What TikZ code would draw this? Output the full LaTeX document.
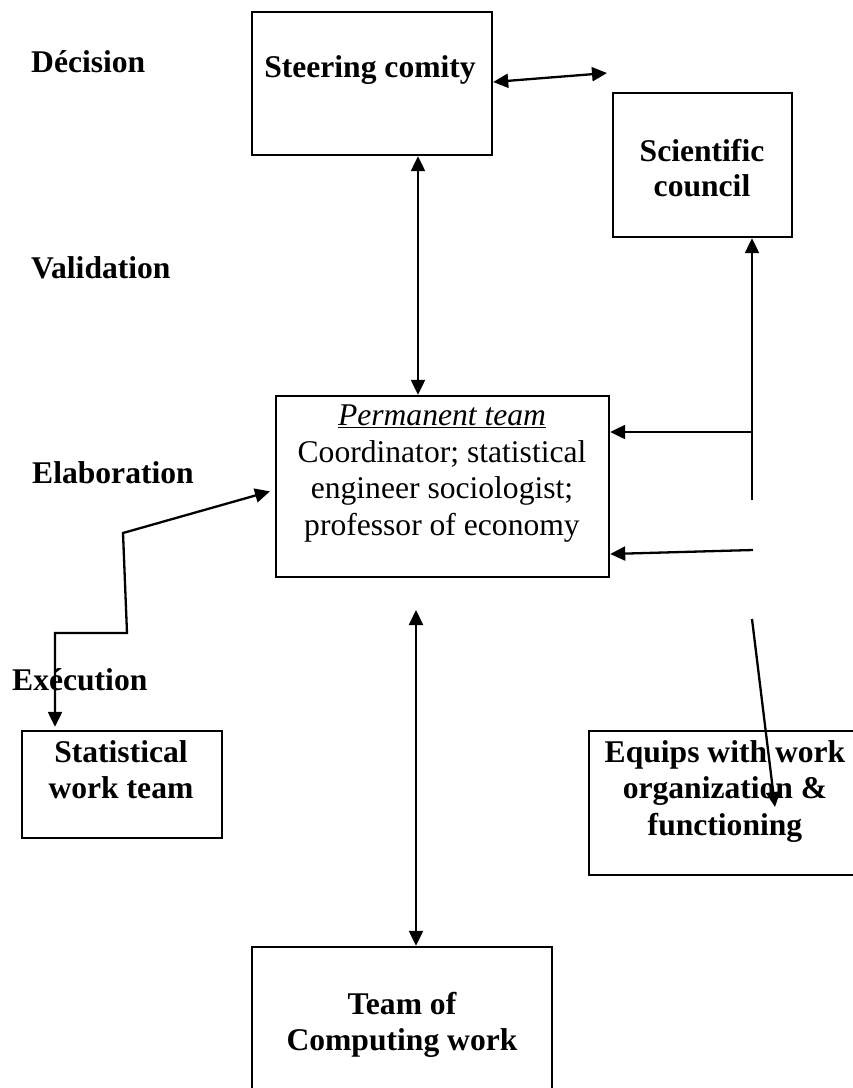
\documentclass[tikz,border=0pt]{standalone}
\usepackage{fontspec}
\setmainfont{Liberation Serif}
\usetikzlibrary{arrows.meta}
\begin{document}
\begin{tikzpicture}[x=1pt,y=-1pt,
  >={Triangle[length=15pt,width=14pt]},
  box/.style={draw, line width=2.4pt, inner sep=0pt},
  txt/.style={font=\bfseries\fontsize{31.6}{36.7}\selectfont, align=center, inner sep=0pt, anchor=north},
  ptxt/.style={font=\fontsize{31.6}{36.5}\selectfont, align=center, inner sep=0pt, anchor=north},
  lab/.style={font=\bfseries\fontsize{31.6}{36.7}\selectfont, inner sep=0pt, anchor=base west},
  conn/.style={line width=2.3pt},
]
\useasboundingbox (0,0) rectangle (853,1088);
\clip (0,0) rectangle (853,1088);

% boxes
\node[box, minimum width=240pt, minimum height=143pt] (steer) at (372,83.5) {};
\node[box, minimum width=179pt, minimum height=144pt] (sci) at (702.5,165) {};
\node[box, minimum width=333pt, minimum height=181pt] (perm) at (442.5,486.5) {};
\node[box, minimum width=200pt, minimum height=107pt] (stat) at (122,784.5) {};
\node[box, minimum width=272pt, minimum height=144pt] (equ) at (725,803) {};
\node[box, minimum width=300pt, minimum height=170pt] (comp) at (402,1032) {};

% box texts
\node[txt] (steert) at (370,51.3) {\strut Steering comity};
\node[txt, font=\bfseries\fontsize{31.6}{35.5}\selectfont] (scit) at (702,136) {\strut Scientific\\\strut council};
\node[ptxt] (permt) at (442,400) {\strut\textit{\underline{Permanent team}}\\\strut Coordinator; statistical\\\strut engineer sociologist;\\\strut professor of economy};
\node[txt] (statt) at (121,736.3) {\strut Statistical\\\strut work team};
\node[txt] (equt) at (725,736.3) {\strut Equips with work\\\strut organization \&\\\strut functioning};
\node[txt] (compt) at (402,988.3) {\strut Team of\\\strut Computing work};

% level labels
\node[lab] (ldec) at (31,72) {Décision};
\node[lab] (lval) at (31,278) {Validation};
\node[lab] (lela) at (32,483) {Elaboration};
\node[lab] (lexe) at (12,690) {Exécution};

% helper coordinates
\coordinate (a1) at (0,82);
\coordinate (a2) at (607,73);
\coordinate (v1) at (418,0);
\coordinate (c1) at (416,610);
\coordinate (r1) at (752,500);
\coordinate (r2) at (753,432);
\coordinate (r3) at (753,550);
\coordinate (r4) at (0,554);
\coordinate (r5) at (752,619);
\coordinate (r6) at (775,807);
\coordinate (l0) at (0,490);
\coordinate (l1) at (123,533);
\coordinate (l2) at (127,633);
\coordinate (l3) at (55,633);

% connectors
\draw[conn, <->] (steer.east |- a1) -- (a2);
\draw[conn, <->] (steer.south -| v1) -- (perm.north -| v1);
\draw[conn, <->] (c1) -- (comp.north -| c1);
\draw[conn, ->] (r1) -- (sci.south -| r1);
\draw[conn, ->] (r2) -- (perm.east |- r2);
\draw[conn, ->] (r3) -- (perm.east |- r4);
\draw[conn, ->] (r5) -- (r6);
\draw[conn, <->, shorten <=5pt, shorten >=3pt] (perm.west |- l0) -- (l1) -- (l2) -- (l3) -- (stat.north -| l3);
\end{tikzpicture}
\end{document}
